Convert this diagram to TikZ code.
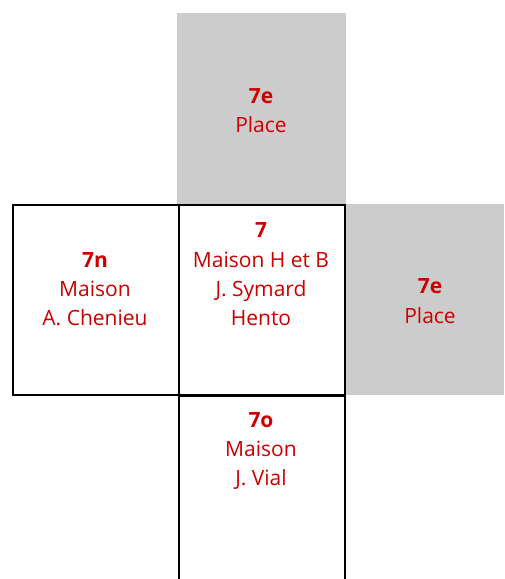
\documentclass[tikz,border=0pt]{standalone}
\usepackage{fontspec}
\setmainfont{Open Sans}
\definecolor{txtred}{HTML}{CC0000}
\definecolor{placegray}{HTML}{CCCCCC}
\begin{document}
\begin{tikzpicture}[x=1pt,y=-1pt,
  cell/.style={draw=black,line width=2pt},
  place/.style={fill=placegray},
  lbl/.style={anchor=base,inner sep=0pt,text=txtred,font=\fontsize{21}{24}\selectfont},
  num/.style={lbl,font=\fontsize{21}{24}\selectfont\bfseries}]
\useasboundingbox (0,0) rectangle (504,579);
% gray places
\fill[place] (177,13) rectangle (346,205);
\fill[place] (346,204) rectangle (504,395);
% boxes
\draw[cell] (12.5,205) rectangle (178.5,395);
\draw[cell] (178.5,205) rectangle (345,395);
\draw[cell] (178.5,579) -- (178.5,395.5) -- (345,395.5) -- (345,579);
% top place
\node[num] (tn) at (261,103) {7e};
\node[lbl] (tp) at (261,132) {Place};
% left
\node[num] (ln) at (95,267) {7n};
\node[lbl] (lm) at (95,296) {Maison};
\node[lbl] (lc) at (95,325) {A. Chenieu};
% center
\node[num] (cn) at (261,237) {7};
\node[lbl] (cm) at (261,267) {Maison H et B};
\node[lbl] (cs) at (261,296) {J. Symard};
\node[lbl] (ch) at (261,325) {Hento};
% right place
\node[num] (rn) at (430,293) {7e};
\node[lbl] (rp) at (430,323) {Place};
% bottom
\node[num] (bn) at (261,427) {7o};
\node[lbl] (bm) at (261,456) {Maison};
\node[lbl] (bv) at (261,485) {J. Vial};
\end{tikzpicture}
\end{document}
